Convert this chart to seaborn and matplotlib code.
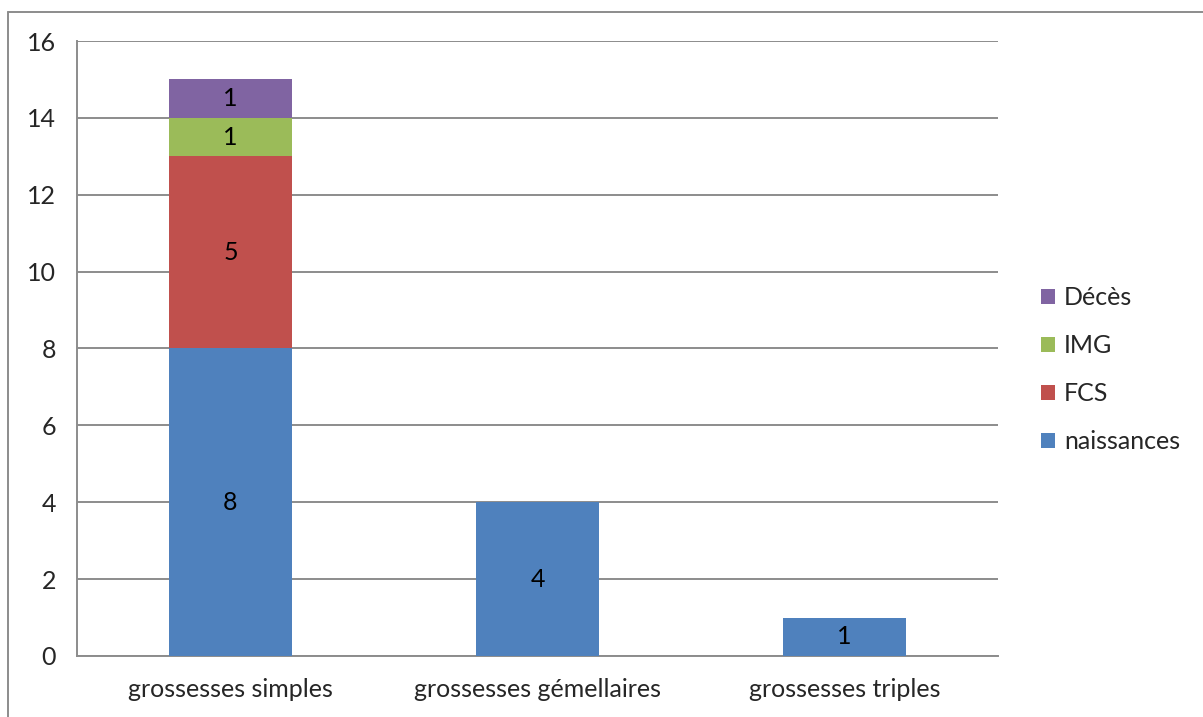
import numpy as np
import pandas as pd
import matplotlib
matplotlib.use("Agg")
import matplotlib.pyplot as plt
import seaborn as sns
from matplotlib.lines import Line2D
from matplotlib.patches import Patch

categories = ["grossesses simples", "grossesses gémellaires", "grossesses triples"]
naissances = [8, 4, 1]
fcs = [5, 0, 0]
img = [1, 0, 0]
deces = [1, 0, 0]

series_names = ["naissances", "FCS", "IMG", "Décès"]
series_values = [naissances, fcs, img, deces]
series_colors = ["#4F81BD", "#C0504D", "#9BBB59", "#8064A2"]

sns.set_style("white")
plt.rcParams["font.family"] = ["Lato", "DejaVu Sans"]

fig = plt.figure(figsize=(12.03, 7.17), dpi=100)
ax = fig.add_axes([0.064, 0.0851, 0.7656, 0.8577])

grid_col = "#8c8c8c"
fs = 18
bottom = np.zeros(len(categories))
for name, vals, col in zip(series_names, series_values, series_colors):
    df = pd.DataFrame({"cat": categories, "val": vals})
    sns.barplot(data=df, x="cat", y="val", color=col, saturation=1,
                width=0.4, bottom=bottom, errorbar=None, ax=ax,
                linewidth=0, zorder=3)
    bars = ax.containers[-1]
    ax.bar_label(bars, labels=[str(v) if v else "" for v in vals],
                 label_type="center", fontsize=fs, color="black")
    bottom = bottom + np.array(vals)

ax.set_ylim(0, 16)
ax.set_xlim(-0.5, 2.5)
ax.set_yticks(range(0, 17, 2))
ax.set_xlabel("")
ax.set_ylabel("")
ax.yaxis.grid(True, color=grid_col, linewidth=1.4, zorder=0)
ax.set_axisbelow(True)

for s in ["top", "right"]:
    ax.spines[s].set_visible(False)
for s in ["left", "bottom"]:
    ax.spines[s].set_color(grid_col)
    ax.spines[s].set_linewidth(1.4)

ax.set_xticks([-0.5, 0.5, 1.5, 2.5], minor=True)
ax.tick_params(axis="x", which="major", length=0, labelsize=fs, pad=16)
ax.tick_params(axis="x", which="minor", length=8, width=1.4, color=grid_col)
ax.tick_params(axis="y", which="major", length=8, width=1.4, color=grid_col,
               labelsize=fs, pad=7)

handles = [Patch(facecolor=c, edgecolor="none") for c in series_colors]
leg = ax.legend(handles[::-1], series_names[::-1], loc="center left",
                bbox_to_anchor=(1.047, 0.466), frameon=False, fontsize=fs,
                handlelength=0.55, handleheight=0.55, handletextpad=0.35,
                labelspacing=1.0, borderpad=0, borderaxespad=0)

fig.add_artist(Line2D([8 / 1203, 1], [1 - 12 / 717, 1 - 12 / 717],
                      color=grid_col, linewidth=1.4))
fig.add_artist(Line2D([8 / 1203, 8 / 1203], [0, 1 - 12 / 717],
                      color=grid_col, linewidth=1.4))

fig.savefig("out.png", dpi=100)
